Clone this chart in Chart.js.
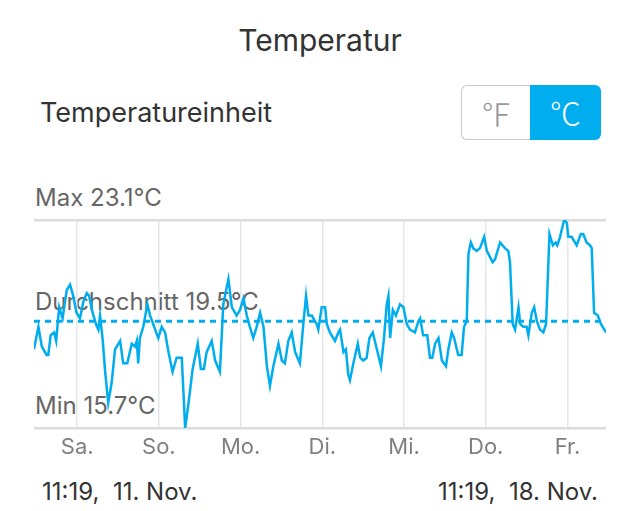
<!DOCTYPE html>
<html>
<head>
<meta charset="utf-8">
<script src="https://cdn.jsdelivr.net/npm/chart.js@4/dist/chart.umd.min.js"></script>
<style>
  html, body { margin: 0; padding: 0; background: #fff; }
  body { width: 640px; height: 511px; position: relative; overflow: hidden;
         font-family: Inter, "Noto Sans", sans-serif; }
  .t { position: absolute; white-space: pre; }
  #title { left: 0; width: 640px; text-align: center; top: 22px; font-size: 30px; line-height: 36px; color: #333; }
  #unit { left: 40px; top: 97px; font-size: 27px; line-height: 32px; color: #333; }
  #seg { position: absolute; left: 461px; top: 85px; width: 140px; height: 55px; }
  #seg .f { position: absolute; left: 0; top: 0; width: 68px; height: 53px; border: 1px solid #c8c8c8; border-right: none;
            border-radius: 6px 0 0 6px; color: #999; text-align: center; }
  #seg .c { position: absolute; left: 69px; top: 0; width: 71px; height: 55px; background: #00adef;
            border-radius: 0 6px 6px 0; color: #fff; text-align: center; }
  #seg span { font-family: "Noto Sans CJK JP", "DejaVu Sans", sans-serif; font-weight: 300; font-size: 31px; line-height: 53px; }
  .lbl { left: 35px; font-size: 24px; line-height: 28px; color: #666; }
  .foot { font-size: 24px; line-height: 28px; color: #333; top: 478px; }
  #wrap { position: absolute; left: 0; top: 200px; width: 640px; height: 270px; }
</style>
</head>
<body>
<div class="t" id="title">Temperatur</div>
<div class="t" id="unit">Temperatureinheit</div>
<div id="seg"><div class="f"><span>℉</span></div><div class="c"><span>℃</span></div></div>

<div class="t lbl" id="lblMax" style="top:184px"></div>
<div class="t lbl" id="lblAvg" style="top:288px"></div>
<div class="t lbl" id="lblMin" style="top:392px"></div>

<div id="wrap"><canvas id="tempChart"></canvas></div>

<div class="t foot" id="startLbl" style="left:42px"></div>
<div class="t foot" id="endLbl" style="right:42px"></div>

<script>
// hours since 11:19, 11. Nov.
const hours = [
  0, 1.3, 2.3, 3.7, 4.2, 4.9, 5.9, 6.5, 7.4, 8.4, 9.6, 10.6, 11.5, 12.5, 13.5, 14.5, 15.5, 16.2, 17.0, 18.2,
  18.9, 19.4, 20.2, 20.9, 21.8, 22.8, 23.8, 25.3, 26.2, 27.4, 28.7, 29.7, 30.2, 30.6, 31.1, 32.1, 33.3, 34.1, 35.0, 36.5,
  37.5, 38.5, 39.5, 40.7, 41.9, 43.4, 44.4, 45.3, 46.6, 48.1, 49.0, 49.9, 50.7, 52.2, 53.2, 54.6, 55.6, 57.1, 58.1, 59.5,
  60.5, 61.5, 62.5, 63.4, 64.4, 65.4, 66.4, 67.4, 68.4, 69.3, 70.3, 71.8, 72.8, 73.7, 74.7, 75.7, 76.7, 78.1, 79.1, 79.9,
  80.6, 81.6, 83.0, 83.5, 84.5, 85.5, 86.0, 86.9, 88.4, 89.4, 89.9, 90.9, 91.6, 92.3, 92.8, 93.8, 95.1, 95.8, 96.7, 97.7,
  98.5, 99.5, 100.7, 101.9, 102.8, 103.6, 104.1, 104.6, 105.4, 106.3, 107.5, 108.5, 109.5, 110.4, 111.9, 112.9, 113.4, 114.3, 115.5, 116.3,
  117.0, 117.8, 118.8, 119.8, 121.0, 121.7, 122.7, 123.4, 124.6, 125.6, 126.3, 127.1, 127.6, 128.3, 129.0, 130.0, 131.0, 132.2, 133.0, 134.7,
  135.4, 136.9, 138.3, 139.3, 139.8, 140.6, 141.3, 142.3, 142.8, 143.7, 144.7, 145.2, 146.2, 146.9, 147.7, 148.6, 149.6, 150.4, 151.4, 152.4,
  153.2, 153.7, 154.5, 155.7, 156.5, 156.9, 157.9, 159.4, 160.6, 161.3, 162.3, 163.3, 163.8, 164.5, 165.6, 166.5, 168
];
const temps = [
  18.5, 19.3, 18.6, 18.3, 18.3, 19.0, 19.1, 18.8, 20.0, 19.6, 20.6, 20.8, 20.4, 19.8, 19.6, 20.2, 20.5, 20.4, 19.9, 19.4,
  19.2, 19.7, 18.8, 17.7, 16.6, 17.3, 18.5, 18.8, 18.0, 18.0, 18.7, 18.6, 18.8, 18.0, 18.9, 19.3, 20.1, 19.7, 19.4, 18.9,
  19.3, 19.1, 18.4, 17.7, 18.2, 18.2, 15.7, 16.5, 17.8, 18.7, 17.8, 17.8, 18.4, 18.8, 18.1, 17.7, 20.1, 21.0, 20.0, 19.7,
  19.9, 20.3, 19.7, 19.3, 18.9, 19.3, 19.8, 19.3, 17.9, 17.2, 17.9, 18.7, 18.1, 18.0, 18.8, 19.1, 18.4, 18.0, 19.4, 20.4,
  19.7, 19.7, 19.4, 19.2, 20.0, 20.0, 19.4, 19.1, 18.8, 19.1, 19.2, 18.4, 18.5, 17.6, 17.4, 18.0, 18.7, 18.2, 18.1, 18.2,
  18.9, 19.1, 18.5, 17.9, 18.9, 20.1, 20.4, 18.9, 19.9, 19.7, 20.1, 20.0, 19.4, 19.2, 19.1, 19.5, 19.6, 19.0, 19.0, 18.2,
  18.2, 18.7, 18.9, 18.1, 17.9, 18.5, 19.1, 18.9, 18.3, 18.3, 19.3, 19.5, 21.9, 22.3, 22.1, 22.0, 22.1, 22.5, 22.0, 21.6,
  21.7, 22.3, 22.1, 22.0, 21.6, 19.4, 19.2, 20.0, 19.4, 19.3, 19.3, 19.0, 19.8, 20.0, 19.5, 19.2, 19.1, 19.4, 22.6, 22.2,
  22.3, 22.2, 22.5, 23.1, 23.0, 22.5, 22.5, 22.2, 22.6, 22.6, 22.3, 22.2, 22.1, 19.8, 19.7, 19.4, 19.1
];

const maxTemp = 23.1;
const avgTemp = 19.5;
const minTemp = 15.7;

// midnights, counted in hours from the start
const dayTicks = [12.68, 36.68, 60.68, 84.68, 108.68, 132.68, 156.68];
const dayLabels = ['Sa.', 'So.', 'Mo.', 'Di.', 'Mi.', 'Do.', 'Fr.'];

const startLabel = '11:19,  11. Nov.';
const endLabel = '11:19,  18. Nov.';

document.getElementById('lblMax').textContent = 'Max ' + maxTemp.toFixed(1) + '°C';
document.getElementById('lblAvg').textContent = 'Durchschnitt ' + avgTemp.toFixed(1) + '°C';
document.getElementById('lblMin').textContent = 'Min ' + minTemp.toFixed(1) + '°C';
document.getElementById('startLbl').textContent = startLabel;
document.getElementById('endLbl').textContent = endLabel;

const blue = '#00adef';

new Chart(document.getElementById('tempChart'), {
  type: 'line',
  data: {
    datasets: [
      {
        data: hours.map((h, i) => ({ x: h, y: temps[i] })),
        borderColor: blue,
        borderWidth: 2.5,
        pointRadius: 0,
        tension: 0
      },
      {
        data: [{ x: 0, y: avgTemp }, { x: 168, y: avgTemp }],
        borderColor: blue,
        borderWidth: 3,
        borderDash: [6, 5],
        pointRadius: 0
      }
    ]
  },
  options: {
    responsive: true,
    maintainAspectRatio: false,
    animation: false,
    layout: { padding: { left: 34, right: 34, top: 20, bottom: 0 } },
    plugins: { legend: { display: false }, tooltip: { enabled: false } },
    scales: {
      x: {
        type: 'linear',
        min: 0,
        max: 168,
        afterBuildTicks: s => { s.ticks = dayTicks.map(v => ({ value: v })); },
        afterFit: s => { s.height = 42; },
        grid: { color: '#e6e6e6', lineWidth: 1.5, drawTicks: false },
        border: { display: false },
        ticks: {
          padding: 6,
          maxRotation: 0,
          autoSkip: false,
          color: '#808080',
          font: { family: 'Inter, "Noto Sans", sans-serif', size: 22 },
          callback: (v, i) => dayLabels[i]
        }
      },
      y: {
        min: minTemp,
        max: maxTemp,
        afterBuildTicks: s => { s.ticks = [{ value: minTemp }, { value: maxTemp }]; },
        afterFit: s => { s.width = 0; },
        grid: { color: '#dcdcdc', lineWidth: 2.5, drawTicks: false },
        border: { display: false },
        ticks: { display: false }
      }
    }
  }
});
</script>
</body>
</html>
